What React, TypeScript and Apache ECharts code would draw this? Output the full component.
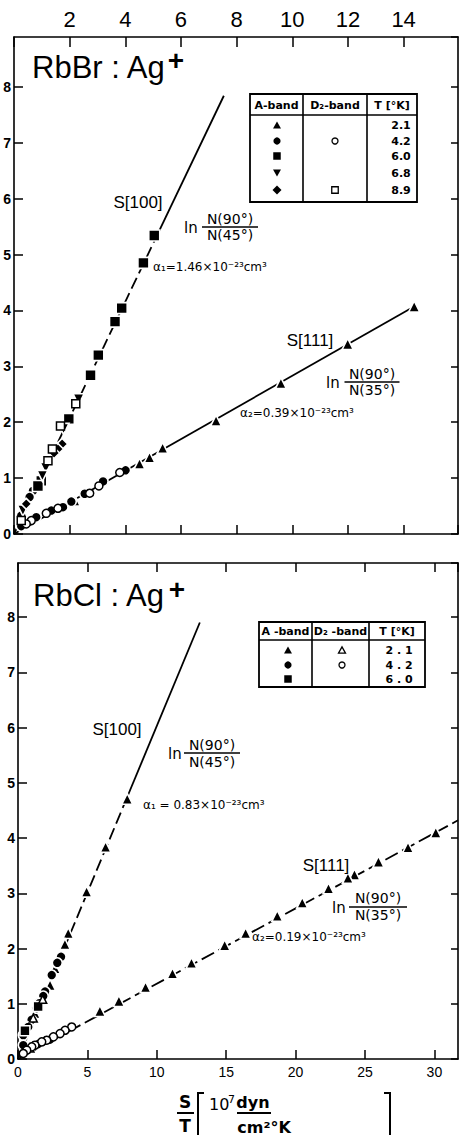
import React, { useEffect, useRef } from "react";
import * as echarts from "echarts";

// ---------- tick labels ----------
const rbbrXTicks = [2, 4, 6, 8, 10, 12, 14];
const rbclXTicks = [0, 5, 10, 15, 20, 25, 30];
const yTicks = [0, 1, 2, 3, 4, 5, 6, 7, 8];

// ---------- RbBr:Ag+ (top panel) ----------
const rbbrA21Tri = [[14.38, 4.07], [11.99, 3.4], [9.59, 2.7], [7.26, 2.03], [5.34, 1.54], [4.87, 1.37], [4.51, 1.26], [2.18, 0.6]];
const rbbrA42Circ = [[4.01, 1.14], [3.2, 0.94], [2.54, 0.72], [2.06, 0.58], [1.76, 0.48], [1.34, 0.42], [0.8, 0.3], [0.26, 0.14], [0.68, 0.77], [0.56, 0.66], [0.26, 0.33]];
const rbbrA60Sq = [[5.04, 5.34], [4.65, 4.85], [3.87, 4.04], [3.63, 3.8], [3.03, 3.2], [2.75, 2.84], [1.97, 2.06], [0.98, 0.95], [0.86, 0.86]];
const rbbrA68Down = [[2.32, 2.41], [1.78, 1.88], [1.14, 1.18], [1.02, 1.04], [0.32, 0.42]];
const rbbrA89Dia = [[1.73, 1.61], [1.58, 1.52], [1.44, 1.45], [0.44, 0.54]];
const rbbrD42Open = [[3.8, 1.1], [3.05, 0.86], [2.72, 0.73], [1.58, 0.46], [1.16, 0.37], [0.62, 0.24], [0.44, 0.18]];
const rbbrD89OpenSq = [[2.22, 2.33], [1.67, 1.93], [1.38, 1.52], [1.22, 1.31], [0.26, 0.24]];
const rbbr100Lower = [[0, 0], [5.1, 5.3]];
const rbbr100Upper = [[5.1, 5.3], [7.54, 7.84]];
const rbbr111 = [[0, 0], [14.38, 4.07]];
const rbbrTemps = ["2.1", "4.2", "6.0", "6.8", "8.9"];

// ---------- RbCl:Ag+ (bottom panel) ----------
const rbclA21Tri = [[7.87, 4.71], [6.31, 3.84], [4.94, 3.03], [3.62, 2.28], [3.38, 2.08], [2.67, 1.64], [2.31, 1.34], [1.22, 0.83],
  [30.1, 4.1], [28.1, 3.83], [25.97, 3.57], [24.24, 3.34], [23.77, 3.28], [22.37, 3.09], [20.48, 2.83], [18.68, 2.59], [16.4, 2.28], [14.89, 2.06], [12.5, 1.74], [11.13, 1.55], [9.19, 1.3], [7.27, 1.05], [5.9, 0.87]];
const rbclA42Circ = [[3.1, 1.85], [2.83, 1.74], [2.43, 1.52], [1.95, 1.22], [1.82, 1.14], [1.54, 1.01], [1.35, 0.92], [0.98, 0.71], [0.74, 0.58], [0.38, 0.43], [0.38, 0.25], [2.3, 0.35], [1.45, 0.27]];
const rbclA60Sq = [[0.5, 0.51], [1.45, 0.95]];
const rbclD21OpenTri = [[1.78, 1.08], [1.1, 0.74], [0.86, 0.2]];
const rbclD42OpenCirc = [[3.87, 0.58], [3.39, 0.52], [3.03, 0.46], [2.55, 0.4], [2.07, 0.34], [1.71, 0.31], [1.22, 0.25], [0.99, 0.22], [0.63, 0.16], [0.38, 0.1]];
const rbcl100Lower = [[0, 0], [7.9, 4.76]];
const rbcl100Upper = [[7.9, 4.76], [13.1, 7.9]];
const rbcl111 = [[0, 0], [31.7, 4.32]];
const rbclTemps = ["2 . 1", "4 . 2", "6 . 0"];

const SANS = "Liberation Sans";
const DJ = "DejaVu Sans";

function near(list: number[], v: number) {
  return list.some((t) => Math.abs(t - v) < 1e-6);
}

function filled(data: number[][], symbol: string, size: number, xi: number, yi: number, rotate = 0) {
  return {
    type: "scatter", data, symbol, symbolSize: size, symbolRotate: rotate,
    xAxisIndex: xi, yAxisIndex: yi, z: 4, silent: true,
    itemStyle: { color: "#000", borderColor: "#fff", borderWidth: 1.6, opacity: 1 },
  };
}
function open(data: number[][], symbol: string, size: number, xi: number, yi: number) {
  return {
    type: "scatter", data, symbol, symbolSize: size,
    xAxisIndex: xi, yAxisIndex: yi, z: 5, silent: true,
    itemStyle: { color: "#fff", borderColor: "#000", borderWidth: 1.5, opacity: 1 },
  };
}
function fit(data: number[][], xi: number, yi: number, dashed: any) {
  return {
    type: "line", data, showSymbol: false, xAxisIndex: xi, yAxisIndex: yi, z: 2, silent: true,
    lineStyle: { color: "#000", width: 1.8, type: dashed },
  };
}

function txt(text: string, x: number, y: number, size: number, opt: any = {}) {
  return {
    type: "text", x, y, silent: true, z: 10,
    style: {
      text, fill: "#000", fontSize: size, fontFamily: opt.family || DJ,
      fontWeight: opt.weight || "normal", align: opt.align || "center", verticalAlign: opt.va || "middle",
    },
  };
}
function ln(x1: number, y1: number, x2: number, y2: number, w = 1.5) {
  return { type: "line", silent: true, z: 10, shape: { x1, y1, x2, y2 }, style: { stroke: "#000", lineWidth: w } };
}
function tri(cx: number, cy: number, s: number, fill = true, down = false) {
  const h = s * 0.9;
  const pts = down
    ? [[cx - s / 2, cy - h / 2], [cx + s / 2, cy - h / 2], [cx, cy + h / 2]]
    : [[cx, cy - h / 2], [cx + s / 2, cy + h / 2], [cx - s / 2, cy + h / 2]];
  return { type: "polygon", silent: true, z: 10, shape: { points: pts },
    style: fill ? { fill: "#000" } : { fill: "#fff", stroke: "#000", lineWidth: 1.3 } };
}
function dia(cx: number, cy: number, s: number) {
  return { type: "polygon", silent: true, z: 10, shape: { points: [[cx, cy - s / 2], [cx + s / 2, cy], [cx, cy + s / 2], [cx - s / 2, cy]] }, style: { fill: "#000" } };
}
function circ(cx: number, cy: number, r: number, fill = true) {
  return { type: "circle", silent: true, z: 10, shape: { cx, cy, r },
    style: fill ? { fill: "#000" } : { fill: "#fff", stroke: "#000", lineWidth: 1.3 } };
}
function sq(cx: number, cy: number, s: number, fill = true) {
  return { type: "rect", silent: true, z: 10, shape: { x: cx - s / 2, y: cy - s / 2, width: s, height: s },
    style: fill ? { fill: "#000" } : { fill: "#fff", stroke: "#000", lineWidth: 1.3 } };
}

function fraction(lx: number, cx: number, yNum: number, yBar: number, yDen: number, w: number, num: string, den: string) {
  return [
    txt("ln", lx, (yBar + 1), 15, { align: "left" }),
    txt(num, cx, yNum, 14),
    ln(cx - w / 2, yBar, cx + w / 2, yBar, 1.5),
    txt(den, cx, yDen, 14),
  ];
}

function buildGraphic() {
  const g: any[] = [];
  // titles
  g.push(txt("RbBr : Ag", 32, 67, 31, { family: SANS, align: "left" }));
  g.push(txt("+", 176, 60, 28, { family: SANS, weight: "bold" }));
  g.push(txt("RbCl : Ag", 33, 595, 31, { family: SANS, align: "left" }));
  g.push(txt("+", 177, 589, 28, { family: SANS, weight: "bold" }));

  // top table
  g.push({ type: "rect", silent: true, z: 9, shape: { x: 250, y: 94, width: 167, height: 108 }, style: { fill: "#fff", stroke: "#000", lineWidth: 1.8 } });
  g.push(ln(250, 115, 417, 115, 1.6), ln(303, 94, 303, 202, 1.6), ln(367, 94, 367, 202, 1.6));
  g.push(txt("A-band", 276.5, 105, 11, { weight: "bold" }));
  g.push(txt("D\u2082-band", 335, 105, 11, { weight: "bold" }));
  g.push(txt("T [\u00b0K]", 392, 105, 11, { weight: "bold" }));
  const rowsTop = [125, 141, 156, 173, 190];
  g.push(tri(277, rowsTop[0], 8), circ(277, rowsTop[1], 3.6), sq(277, rowsTop[2], 7.5), tri(277, rowsTop[3], 8, true, true), dia(277, rowsTop[4], 9));
  g.push(circ(335, rowsTop[1], 3, false), sq(335, rowsTop[4], 6.5, false));
  rbbrTemps.forEach((t, i) => g.push(txt(t, 401, rowsTop[i], 11, { weight: "bold" })));

  // bottom table
  g.push({ type: "rect", silent: true, z: 9, shape: { x: 259, y: 622, width: 166, height: 65 }, style: { fill: "#fff", stroke: "#000", lineWidth: 1.8 } });
  g.push(ln(259, 640, 425, 640, 1.6), ln(312, 622, 312, 687, 1.6), ln(369, 622, 369, 687, 1.6));
  g.push(txt("A -band", 285.5, 631, 11, { weight: "bold" }));
  g.push(txt("D\u2082 -band", 340.5, 631, 11, { weight: "bold" }));
  g.push(txt("T [\u00b0K]", 397, 631, 11, { weight: "bold" }));
  const rowsBot = [650, 665, 679];
  g.push(tri(288, rowsBot[0], 8), circ(288, rowsBot[1], 3.6), sq(288, rowsBot[2], 7.5));
  g.push(tri(342, rowsBot[0], 7, false), circ(342, rowsBot[1], 3, false));
  rbclTemps.forEach((t, i) => g.push(txt(t, 399, rowsBot[i], 11, { weight: "bold" })));

  // top annotations
  g.push(txt("S[100]", 138, 202, 17, { family: SANS }));
  g.push(...fraction(184, 230, 219, 227, 235, 56, "N(90\u00b0)", "N(45\u00b0)"));
  g.push(txt("\u03b1\u2081=1.46\u00d710\u207b\u00b2\u00b3cm\u00b3", 153, 267, 12, { align: "left" }));
  g.push(txt("S[111]", 310, 340, 17, { family: SANS }));
  g.push(...fraction(326, 372, 374, 382, 390, 55, "N(90\u00b0)", "N(35\u00b0)"));
  g.push(txt("\u03b1\u2082=0.39\u00d710\u207b\u00b2\u00b3cm\u00b3", 240, 413, 12, { align: "left" }));

  // bottom annotations
  g.push(txt("S[100]", 117, 729, 17, { family: SANS }));
  g.push(...fraction(168, 212, 745, 753, 762, 56, "N(90\u00b0)", "N(45\u00b0)"));
  g.push(txt("\u03b1\u2081 = 0.83\u00d710\u207b\u00b2\u00b3cm\u00b3", 143, 805, 12, { align: "left" }));
  g.push(txt("S[111]", 326, 865, 17, { family: SANS }));
  g.push(...fraction(332, 378, 898, 907, 915, 58, "N(90\u00b0)", "N(35\u00b0)"));
  g.push(txt("\u03b1\u2082=0.19\u00d710\u207b\u00b2\u00b3cm\u00b3", 252, 937, 12, { align: "left" }));

  // x-axis title
  g.push(txt("S", 185, 1102, 17, { weight: "bold" }), ln(177, 1113, 194, 1113, 2), txt("T", 185, 1126, 17, { weight: "bold" }));
  g.push({ type: "polyline", silent: true, z: 10, shape: { points: [[204, 1093], [198, 1093], [198, 1135]] }, style: { stroke: "#000", lineWidth: 2, fill: null } });
  g.push({ type: "polyline", silent: true, z: 10, shape: { points: [[384, 1093], [390, 1093], [390, 1135]] }, style: { stroke: "#000", lineWidth: 2, fill: null } });
  g.push(txt("10", 209, 1104, 16, { align: "left" }), txt("7", 228, 1099, 11, { align: "left" }));
  g.push(txt("dyn", 253, 1102, 16, { weight: "bold" }), ln(237, 1113, 271, 1113, 2), txt("cm\u00b2\u00b0K", 264, 1127, 16, { weight: "bold" }));
  return g;
}

function xAxisDef(grid: number, pos: string, max: number, interval: number, ticks: number[] | null, tickLen: number, labelSize: number, labelWeight: string, margin: number) {
  return {
    type: "value", gridIndex: grid, position: pos, min: 0, max, interval,
    axisLine: { show: true, onZero: false, lineStyle: { color: "#000", width: 1.6 } },
    axisTick: { show: true, inside: true, length: tickLen, lineStyle: { color: "#000", width: 1.5 } },
    splitLine: { show: false },
    axisLabel: ticks
      ? { show: true, margin, color: "#000", fontSize: labelSize, fontWeight: labelWeight, fontFamily: SANS,
          showMaxLabel: false, formatter: (v: number) => (near(ticks, v) ? String(Math.round(v)) : "") }
      : { show: false },
  };
}
function yAxisDef(grid: number, pos: string, max: number, labels: boolean, tickLen: number) {
  return {
    type: "value", gridIndex: grid, position: pos, min: 0, max, interval: 1,
    axisLine: { show: true, onZero: false, lineStyle: { color: "#000", width: 1.6 } },
    axisTick: { show: true, inside: true, length: tickLen, lineStyle: { color: "#000", width: 1.5 } },
    splitLine: { show: false },
    axisLabel: labels
      ? { show: true, margin: 3, color: "#000", fontSize: 14, fontWeight: "bold", fontFamily: SANS, showMaxLabel: false,
          formatter: (v: number) => (near(yTicks, v) ? String(Math.round(v)) : "") }
      : { show: false },
  };
}

export default function App() {
  const ref = useRef<HTMLDivElement>(null);
  useEffect(() => {
    if (!ref.current) return;
    const chart = echarts.init(ref.current, undefined, { renderer: "svg" });
    const topXMax = 444 / 27.83;
    const botXMax = 440 / 13.88;
    const topYMax = 497 / 55.9;
    const botYMax = 496 / 55.25;
    chart.setOption({
      animation: false,
      backgroundColor: "#fff",
      grid: [
        { left: 14, top: 37, width: 444, height: 497 },
        { left: 18, top: 563, width: 440, height: 496 },
      ],
      xAxis: [
        xAxisDef(0, "top", topXMax, 2, rbbrXTicks, 10, 22, "normal", 7),
        xAxisDef(0, "bottom", topXMax, 2, null, 9, 14, "bold", 5),
        xAxisDef(1, "bottom", botXMax, 5, rbclXTicks, 9, 14, "normal", 6),
        xAxisDef(1, "top", botXMax, 5, null, 9, 14, "bold", 5),
      ],
      yAxis: [
        yAxisDef(0, "left", topYMax, true, 9),
        yAxisDef(0, "right", topYMax, false, 7),
        yAxisDef(1, "left", botYMax, true, 9),
        yAxisDef(1, "right", botYMax, false, 7),
      ],
      series: [
        fit(rbbr100Lower, 0, 0, [12, 5]),
        fit(rbbr100Upper, 0, 0, "solid"),
        fit(rbbr111, 0, 0, "solid"),
        filled(rbbrA21Tri, "triangle", 11, 0, 0),
        filled(rbbrA42Circ, "circle", 10, 0, 0),
        filled(rbbrA60Sq, "rect", 11, 0, 0),
        filled(rbbrA68Down, "triangle", 11, 0, 0, 180),
        filled(rbbrA89Dia, "diamond", 11, 0, 0),
        open(rbbrD42Open, "circle", 8, 0, 0),
        open(rbbrD89OpenSq, "rect", 8, 0, 0),

        fit(rbcl100Lower, 2, 2, [12, 5]),
        fit(rbcl100Upper, 2, 2, "solid"),
        fit(rbcl111, 2, 2, [14, 5]),
        filled(rbclA21Tri, "triangle", 11, 2, 2),
        filled(rbclA42Circ, "circle", 10, 2, 2),
        filled(rbclA60Sq, "rect", 10, 2, 2),
        open(rbclD21OpenTri, "triangle", 8, 2, 2),
        open(rbclD42OpenCirc, "circle", 8, 2, 2),
      ],
      graphic: buildGraphic(),
    });
    return () => chart.dispose();
  }, []);
  return <div ref={ref} style={{ position: "absolute", left: 0, top: 0, width: 459, height: 1135 }} />;
}
